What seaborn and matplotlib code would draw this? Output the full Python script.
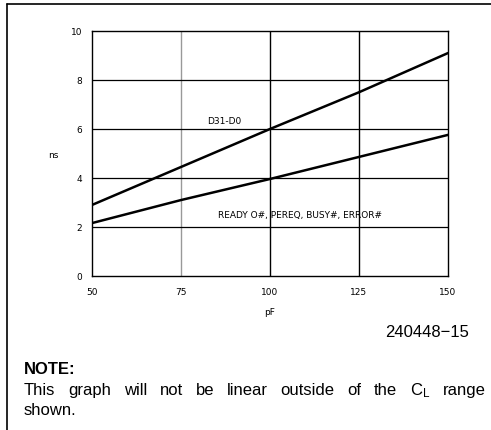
import pandas as pd
import numpy as np
import matplotlib
matplotlib.use("Agg")
import matplotlib.pyplot as plt
import seaborn as sns
from matplotlib.lines import Line2D

# values (ns vs load capacitance in pF)
load_pf = [50, 75, 100, 125, 150]
d31_d0_ns = [2.9, 4.45, 6.0, 7.5, 9.1]
ready_ns = [2.16, 3.1, 3.96, 4.86, 5.76]
series_names = ["D31-D0", "READY O#, PEREQ, BUSY#, ERROR#"]
x_ticks = [50, 75, 100, 125, 150]
y_ticks = [0, 2, 4, 6, 8, 10]
note_words = ["This", "graph", "will", "not", "be", "linear", "outside", "of", "the",
              "$\\mathregular{C_L}$", "range"]

df = pd.DataFrame({
    "pF": load_pf * 2,
    "ns": d31_d0_ns + ready_ns,
    "signal": [series_names[0]] * len(load_pf) + [series_names[1]] * len(load_pf),
})

sns.set_style("white", {"text.color": "black", "xtick.color": "black",
                        "ytick.color": "black", "axes.labelcolor": "black"})
plt.rcParams["font.family"] = ["DejaVu Sans"]

W, H = 491, 431
fig = plt.figure(figsize=(W / 100, H / 100), dpi=100)
ax = fig.add_axes([92 / W, 1 - 277 / H, 356 / W, 245 / H])

# grid lines
for x in x_ticks[1:-1]:
    col = "#999999" if x == 75 else "black"
    ax.axvline(x, color=col, lw=1.0, zorder=1)
for y in y_ticks[1:-1]:
    ax.axhline(y, color="black", lw=0.9, zorder=1)

sns.lineplot(data=df, x="pF", y="ns", hue="signal", palette=["black", "black"],
             linewidth=1.8, legend=False, ax=ax, zorder=3)

ax.set_xlim(50, 150)
ax.set_ylim(0, 10)
ax.set_xticks(x_ticks)
ax.set_yticks(y_ticks)
ax.tick_params(length=0, labelsize=6.5, pad=8, labelcolor="black")
ax.tick_params(axis="y", pad=7)
ax.set_xlabel("pF", fontsize=6.5, labelpad=8, color="black")
ax.set_ylabel("")
for s in ax.spines.values():
    s.set_color("black")
    s.set_linewidth(1.0)

# in-plot labels
ax.text(82.3, 6.33, series_names[0], fontsize=6.5, ha="left", va="center", color="black")
ax.text(85.4, 2.49, series_names[1], fontsize=6.5, ha="left", va="center", color="black")

# free text
fig.text(48 / W, 1 - 156 / H, "ns", fontsize=6.5, ha="left", va="center", color="black")
fs = 12
fig.text(469 / W, 1 - 333 / H, "240448\u221215", fontsize=fs, ha="right", va="center",
         family="Liberation Sans", color="black")
fig.text(24 / W, 1 - 370 / H, "NOTE:", fontsize=fs, fontweight="bold", ha="left", va="center",
         family="Liberation Sans", color="black")
fig.text(24 / W, 1 - 411 / H, "shown.", fontsize=fs, ha="left", va="center",
         family="Liberation Sans", color="black")

# justified note line
renderer = fig.canvas.get_renderer()
texts = [fig.text(0, 1 - 391 / H, w, fontsize=fs, ha="left", va="center",
                  family="Liberation Sans", color="black") for w in note_words]
widths = [t.get_window_extent(renderer).width for t in texts]
x0, x1 = 24, 486
gap = (x1 - x0 - sum(widths)) / (len(widths) - 1)
pos = x0
for t, w in zip(texts, widths):
    t.set_x(pos / W)
    pos += w + gap

# page frame lines
fig.add_artist(Line2D([7 / W, 1], [1 - 5 / H, 1 - 5 / H], color="black", lw=1.2))
fig.add_artist(Line2D([7 / W, 7 / W], [0, 1 - 5 / H], color="black", lw=1.2))

fig.savefig("out.png", dpi=100)
